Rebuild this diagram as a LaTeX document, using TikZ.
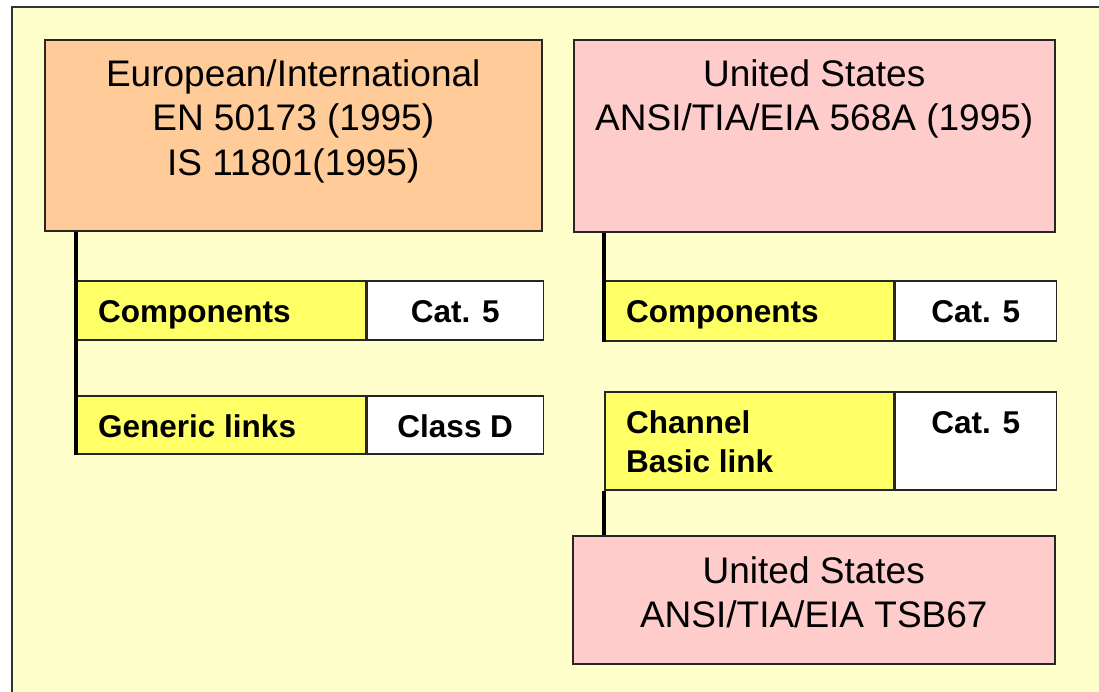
\documentclass[tikz,border=0pt]{standalone}
\usepackage{fontspec}
\setmainfont{Liberation Sans}
\usetikzlibrary{calc}
\definecolor{bgyellow}{HTML}{FFFFCC}
\definecolor{orangebox}{HTML}{FFCC99}
\definecolor{pinkbox}{HTML}{FFCCCC}
\definecolor{yellowbox}{HTML}{FFFF66}
\tikzset{
  box/.style={draw=black!85, line width=1.5pt, rectangle, inner sep=0pt, anchor=north west},
  titletext/.style={font=\fontsize{37}{44.5}\selectfont, align=center, inner sep=0pt, anchor=north},
  lbl/.style={font=\fontsize{31.5}{39}\selectfont\bfseries, align=left, inner sep=0pt},
  conn/.style={line width=4pt, black}
}
\begin{document}
\begin{tikzpicture}[x=1pt,y=-1pt]
\useasboundingbox (0,0) rectangle (1099,691);
\fill[white] (0,0) rectangle (1099,691);
\begin{scope}
\clip (0,0) rectangle (1099,691);
\draw[fill=bgyellow, line width=2pt, draw=black!80] (12,7) rectangle (1120,720);
\end{scope}
% top boxes
\node[box, fill=orangebox, minimum width=497pt, minimum height=191pt] (eu) at (44,39) {};
\node[box, fill=pinkbox, minimum width=481pt, minimum height=192pt] (us) at (573,39) {};
\node[box, fill=pinkbox, minimum width=482pt, minimum height=128pt] (tsb) at (572,535) {};
% left rows
\node[box, fill=yellowbox, minimum width=289pt, minimum height=59pt] (lc) at (76,280) {};
\node[box, fill=white, minimum width=176pt, minimum height=59pt] (lcw) at (lc.north east) {};
\node[box, fill=yellowbox, minimum width=289pt, minimum height=58pt] (lg) at (76,395) {};
\node[box, fill=white, minimum width=176pt, minimum height=58pt] (lgw) at (lg.north east) {};
% right rows
\node[box, fill=yellowbox, minimum width=289pt, minimum height=60pt] (rc) at (604,280) {};
\node[box, fill=white, minimum width=161pt, minimum height=60pt] (rcw) at (rc.north east) {};
\node[box, fill=yellowbox, minimum width=289pt, minimum height=98pt] (rch) at (604,391) {};
\node[box, fill=white, minimum width=161pt, minimum height=98pt] (rchw) at (rch.north east) {};
% connectors
\draw[conn] (lg.south west) -- (lg.south west |- eu.south);
\draw[conn] (rc.south west) -- (rc.south west |- us.south);
\draw[conn] (rch.south west) -- (rch.south west |- tsb.north);
% texts
\node[titletext] (eut) at ($(eu.north)+(0,20)$) {European/International\\EN 50173 (1995)\\IS 11801(1995)};
\node[titletext] (ust) at ($(us.north)+(0,20)$) {United States\\ANSI/TIA/EIA 568A (1995)};
\node[titletext] (tsbt) at ($(tsb.north)+(0,21)$) {United States\\ANSI/TIA/EIA TSB67};
\node[lbl, anchor=base west] (lct) at ($(lc.north west)+(22,42)$) {Components};
\node[lbl, anchor=base] (lcwt) at ($(lcw.north)+(0,42)$) {Cat. 5};
\node[lbl, anchor=base west] (lgt) at ($(lg.north west)+(22,42)$) {Generic links};
\node[lbl, anchor=base] (lgwt) at ($(lgw.north)+(0,42)$) {Class D};
\node[lbl, anchor=base west] (rct) at ($(rc.north west)+(22,42)$) {Components};
\node[lbl, anchor=base] (rcwt) at ($(rcw.north)+(0,42)$) {Cat. 5};
\node[lbl, anchor=north west] (rcht) at ($(rch.north west)+(22,19)$) {Channel\\Basic link};
\node[lbl, anchor=base] (rchwt) at ($(rchw.north)+(0,42)$) {Cat. 5};
\end{tikzpicture}
\end{document}
